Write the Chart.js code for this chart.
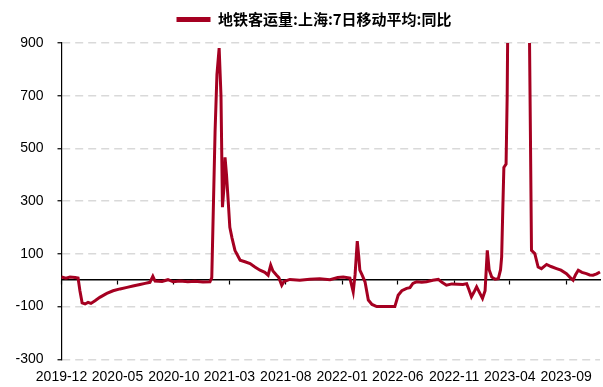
<!DOCTYPE html>
<html lang="zh-CN">
<head>
<meta charset="utf-8">
<title>地铁客运量:上海:7日移动平均:同比</title>
<script src="https://cdn.jsdelivr.net/npm/chart.js@4.4.1/dist/chart.umd.min.js"></script>
<style>
  html, body { margin: 0; padding: 0; background: #fff; }
  #wrap { width: 603px; height: 387px; }
</style>
</head>
<body>
<div id="wrap"><canvas id="chart"></canvas></div>
<script>
'use strict';

// ── Data ────────────────────────────────────────────────────────────────────

const SERIES_NAME = '地铁客运量:上海:7日移动平均:同比';

const DATES = [
  '2019-12-01', '2019-12-13', '2019-12-24', '2020-01-07', '2020-01-15', '2020-01-20',
  '2020-01-26', '2020-02-03', '2020-02-11', '2020-02-19', '2020-03-01', '2020-03-14',
  '2020-04-02', '2020-04-19', '2020-05-08', '2020-05-27', '2020-06-12', '2020-07-01',
  '2020-07-15', '2020-07-28', '2020-08-05', '2020-08-11', '2020-08-30', '2020-09-15',
  '2020-09-29', '2020-10-18', '2020-11-08', '2020-11-27', '2020-12-19', '2021-01-07',
  '2021-01-12', '2021-01-21', '2021-01-26', '2021-02-01', '2021-02-06', '2021-02-10',
  '2021-02-14', '2021-02-17', '2021-02-21', '2021-02-26', '2021-03-02', '2021-03-08',
  '2021-03-16', '2021-03-30', '2021-04-12', '2021-04-26', '2021-05-09', '2021-05-23',
  '2021-06-05', '2021-06-14', '2021-06-21', '2021-06-27', '2021-07-07', '2021-07-13',
  '2021-07-21', '2021-07-27', '2021-08-12', '2021-09-08', '2021-10-05', '2021-11-01',
  '2021-11-29', '2021-12-20', '2022-01-04', '2022-01-22', '2022-01-31', '2022-02-05',
  '2022-02-11', '2022-02-15', '2022-02-18', '2022-02-24', '2022-03-04', '2022-03-13',
  '2022-03-23', '2022-04-05', '2022-04-27', '2022-05-24', '2022-06-02', '2022-06-12',
  '2022-06-25', '2022-07-04', '2022-07-12', '2022-07-22', '2022-08-05', '2022-08-18',
  '2022-09-04', '2022-09-19', '2022-09-29', '2022-10-11', '2022-10-26', '2022-11-11',
  '2022-11-25', '2022-12-05', '2022-12-11', '2022-12-18', '2022-12-25', '2023-01-01',
  '2023-01-10', '2023-01-17', '2023-01-24', '2023-01-30', '2023-02-04', '2023-02-11',
  '2023-02-20', '2023-03-01', '2023-03-07', '2023-03-10', '2023-03-13', '2023-03-16',
  '2023-03-22', '2023-03-25', '2023-03-28', '2023-04-07', '2023-04-29', '2023-05-18',
  '2023-05-24', '2023-05-27', '2023-05-30', '2023-06-08', '2023-06-17', '2023-06-26',
  '2023-07-10', '2023-07-22', '2023-08-06', '2023-08-18', '2023-09-02', '2023-09-11',
  '2023-09-20', '2023-09-27', '2023-10-04', '2023-10-14', '2023-10-26', '2023-11-04',
  '2023-11-13', '2023-11-23', '2023-12-02'
];

const VALUES = [
  12, 8, 12, 10, 8, -40,
  -86, -90, -84, -88, -78, -65,
  -50, -40, -33, -27, -22, -16,
  -12, -8, 15, -3, -5, 2,
  -6, -3, -6, -4, -7, -6,
  10, 567, 780, 881, 700, 277,
  350, 466, 400, 291, 201, 160,
  113, 76, 70, 63, 50, 38,
  30, 19, 57, 35, 19, 10,
  -19, -5, 3, 0, 4, 6,
  2, 10, 12, 8, -44, 20,
  148, 90, 38, 20, -6, -75,
  -92, -100, -100, -100, -57, -40,
  -31, -28, -12, -6, -8, -6,
  0, 3, -8, -19, -14, -15,
  -16, -13, -35, -63, -45, -25,
  -50, -69, -40, 113, 40, 12,
  4, 6, 40, 88, 264, 428,
  441, 700, 1200, 2500, 3300, 2000,
  1000, 567, 113, 101, 50, 44,
  60, 52, 44, 38, 25, 12,
  0, 22, 38, 30, 25, 20,
  19, 24, 31
];

const TICK_DATES = [
  '2019-12-01', '2020-05-01', '2020-10-01', '2021-03-01', '2021-08-01',
  '2022-01-01', '2022-06-01', '2022-11-01', '2023-04-01', '2023-09-01'
];
const TICK_LABELS = [
  '2019-12', '2020-05', '2020-10', '2021-03', '2021-08',
  '2022-01', '2022-06', '2022-11', '2023-04', '2023-09'
];

const Y_TICKS = [-300, -100, 100, 300, 500, 700, 900];

const START_DATE = '2019-12-01';
const END_DATE = '2023-12-02';

// ── Helpers ─────────────────────────────────────────────────────────────────

const LINE_COLOR = '#A50021';
const GRID_COLOR = '#d9d9d9';
const TICK_FONT = { family: "'Liberation Sans', Arial, sans-serif", size: 14 };

function dayOf(s) {
  return (Date.parse(s) - Date.parse(START_DATE)) / 86400000;
}

const X_MIN = 0;
const X_MAX = dayOf(END_DATE);
const tickDays = TICK_DATES.map(dayOf);

function setDateTicks(scale) {
  scale.ticks = tickDays.map(v => ({ value: v }));
}

// legend: a bit more room below it, and nudged right
const legendTweak = {
  id: 'legendTweak',
  beforeInit(chart) {
    const fit = chart.legend.fit;
    chart.legend.fit = function () {
      fit.call(this);
      this.height += 6;
    };
  },
  afterLayout(chart) {
    chart.legend.left += 14;
    chart.legend.right += 14;
  }
};

// ── Chart ───────────────────────────────────────────────────────────────────

Chart.defaults.color = '#000';

new Chart(document.getElementById('chart'), {
  type: 'line',
  data: {
    datasets: [{
      label: SERIES_NAME,
      data: DATES.map((d, i) => ({ x: dayOf(d), y: VALUES[i] })),
      borderColor: LINE_COLOR,
      backgroundColor: LINE_COLOR,
      borderWidth: 3,
      pointRadius: 0,
      tension: 0,
      xAxisID: 'x',
      yAxisID: 'y',
      clip: { left: 2, top: 0, right: 2, bottom: 2 }
    }]
  },
  plugins: [legendTweak],
  options: {
    responsive: true,
    maintainAspectRatio: false,
    animation: false,
    devicePixelRatio: 1,
    layout: { padding: { left: 0, right: 3, top: 4, bottom: 0 } },
    plugins: {
      tooltip: { enabled: false },
      legend: {
        position: 'top',
        align: 'center',
        labels: {
          color: '#000',
          font: { family: "'Noto Sans CJK SC', sans-serif", size: 15, weight: 'bold' },
          boxWidth: 34,
          boxHeight: 5,
          padding: 8,
          generateLabels: chart =>
            Chart.defaults.plugins.legend.labels.generateLabels(chart)
              .map(l => ({ ...l, lineWidth: 0, fillStyle: LINE_COLOR }))
        }
      }
    },
    scales: {
      // axis line along y = 0 with the date tick marks
      x: {
        type: 'linear',
        position: { y: 0 },
        min: X_MIN,
        max: X_MAX,
        afterBuildTicks: setDateTicks,
        ticks: { display: false },
        grid: { display: true, drawOnChartArea: false, drawTicks: true, tickLength: 4, tickColor: '#000', tickWidth: 1.2 },
        border: { display: true, color: '#000', width: 1.5 }
      },
      // date labels along the bottom
      xb: {
        type: 'linear',
        position: 'bottom',
        min: X_MIN,
        max: X_MAX,
        afterBuildTicks: setDateTicks,
        afterFit: scale => { scale.height = 27.7; },
        ticks: {
          font: TICK_FONT,
          color: '#000',
          padding: 9,
          autoSkip: false,
          maxRotation: 0,
          minRotation: 0,
          callback: v => TICK_LABELS[tickDays.indexOf(v)] || ''
        },
        grid: { display: false, drawTicks: false },
        border: { display: false }
      },
      y: {
        type: 'linear',
        position: 'left',
        min: Y_TICKS[0],
        max: Y_TICKS[Y_TICKS.length - 1],
        afterBuildTicks: scale => { scale.ticks = Y_TICKS.map(v => ({ value: v })); },
        afterFit: scale => { scale.width = 61.5; },
        ticks: { font: TICK_FONT, color: '#000', padding: 14 },
        grid: { color: GRID_COLOR, lineWidth: 1.5, tickColor: '#000', tickLength: 4, tickWidth: 1.2, tickBorderDash: [] },
        border: { display: true, color: '#000', width: 1.2, dash: [8, 5] }
      }
    }
  }
});
</script>
</body>
</html>
